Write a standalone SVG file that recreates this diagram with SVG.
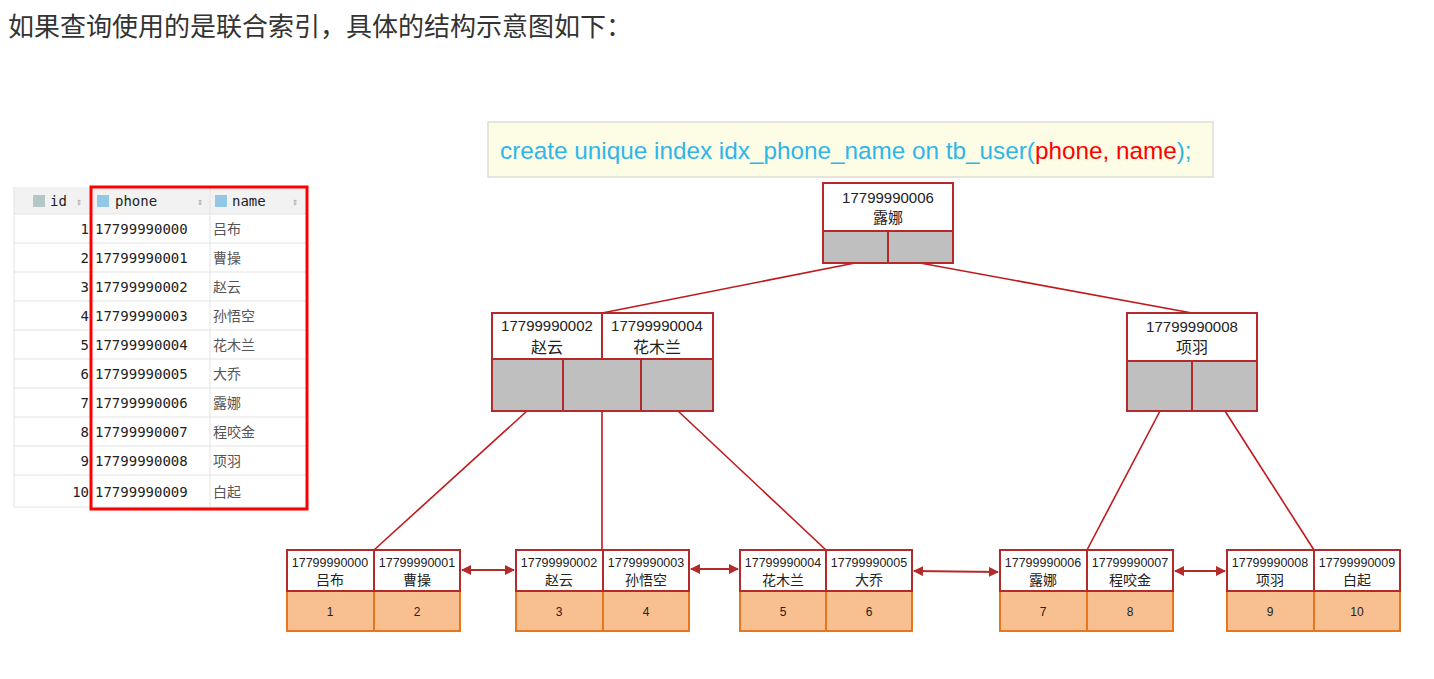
<svg xmlns="http://www.w3.org/2000/svg" width="1434" height="679" viewBox="0 0 1434 679">
<style>
.t{font-family:"Liberation Sans","Noto Sans CJK SC",sans-serif;fill:#222;text-anchor:middle}
.k{stroke:#b22a2a;stroke-width:2;fill:#fff}
.g{stroke:#b22a2a;stroke-width:2;fill:#bfbfbf}
.o{stroke:#e8761e;stroke-width:2;fill:#f8bf90}
.m{font-family:"DejaVu Sans Mono",monospace;font-size:14px;fill:#222}
.c{font-family:"Noto Sans CJK SC",sans-serif;font-size:14px;fill:#555}
.ln{stroke:#c0191c;stroke-width:1.6;fill:none}
.ar{stroke:#b22a2a;stroke-width:2;marker-start:url(#a);marker-end:url(#a)}
</style>
<defs><marker id="a" viewBox="0 0 10 10" refX="9" refY="5" markerWidth="5" markerHeight="5" orient="auto-start-reverse"><path d="M0,0L10,5L0,10z" fill="#b22a2a"/></marker></defs>
<rect width="1434" height="679" fill="#fff"/>
<text x="8" y="36" style="font-family:'Noto Sans CJK SC',sans-serif;font-size:26px;fill:#333">如果查询使用的是联合索引，具体的结构示意图如下：</text>
<g id="code"><rect x="488" y="122" width="725" height="55" fill="#fdfde6" stroke="#ccc"/>
<text x="500" y="159" style="font-family:'Liberation Sans',sans-serif;font-size:24.3px;fill:#2eb6ea">create unique index idx_phone_name on tb_user(<tspan fill="#f00">phone, name</tspan>);</text></g>
<g id="table">
<rect x="14" y="187" width="292" height="27" fill="#f2f2f2"/>
<g stroke="#e3e3e3"><line x1="14" y1="214" x2="306" y2="214"/><line x1="14" y1="243" x2="306" y2="243"/><line x1="14" y1="272" x2="306" y2="272"/><line x1="14" y1="301" x2="306" y2="301"/><line x1="14" y1="330" x2="306" y2="330"/><line x1="14" y1="359" x2="306" y2="359"/><line x1="14" y1="388" x2="306" y2="388"/><line x1="14" y1="417" x2="306" y2="417"/><line x1="14" y1="446" x2="306" y2="446"/><line x1="14" y1="475" x2="306" y2="475"/><line x1="14" y1="507" x2="306" y2="507"/><line x1="210" y1="187" x2="210" y2="507"/><line x1="14" y1="187" x2="14" y2="507"/></g>
<rect x="33" y="195" width="12" height="12" fill="#8aa" opacity="0.6"/><rect x="97" y="195" width="12" height="12" fill="#6ab6e0" opacity="0.7"/><rect x="215" y="195" width="12" height="12" fill="#6ab6e0" opacity="0.7"/>
<text class="m" x="50" y="206">id</text><text class="m" x="115" y="206">phone</text><text class="m" x="232" y="206">name</text>
<g class="m" style="fill:#999;font-size:10px"><text x="76" y="205">⇕</text><text x="197" y="205">⇕</text><text x="292" y="205">⇕</text></g>
<g class="m" text-anchor="end"><text x="89" y="234">1</text><text x="89" y="263">2</text><text x="89" y="292">3</text><text x="89" y="321">4</text><text x="89" y="350">5</text><text x="89" y="379">6</text><text x="89" y="408">7</text><text x="89" y="437">8</text><text x="89" y="466">9</text><text x="89" y="497">10</text></g>
<g class="m"><text x="95" y="234">17799990000</text><text x="95" y="263">17799990001</text><text x="95" y="292">17799990002</text><text x="95" y="321">17799990003</text><text x="95" y="350">17799990004</text><text x="95" y="379">17799990005</text><text x="95" y="408">17799990006</text><text x="95" y="437">17799990007</text><text x="95" y="466">17799990008</text><text x="95" y="497">17799990009</text></g>
<g class="c"><text x="213" y="234">吕布</text><text x="213" y="263">曹操</text><text x="213" y="292">赵云</text><text x="213" y="321">孙悟空</text><text x="213" y="350">花木兰</text><text x="213" y="379">大乔</text><text x="213" y="408">露娜</text><text x="213" y="437">程咬金</text><text x="213" y="466">项羽</text><text x="213" y="497">白起</text></g>
<rect x="91" y="187" width="216" height="322" fill="none" stroke="#f00" stroke-width="3"/>
</g>
<g id="connectors">
<line class="ln" x1="855" y1="263" x2="602" y2="313"/><line class="ln" x1="920" y1="263" x2="1192" y2="313"/>
<line class="ln" x1="527" y1="411" x2="374" y2="550"/><line class="ln" x1="602" y1="411" x2="602" y2="550"/><line class="ln" x1="678" y1="411" x2="826" y2="550"/>
<line class="ln" x1="1160" y1="411" x2="1087" y2="550"/><line class="ln" x1="1225" y1="411" x2="1314" y2="550"/>
<line class="ar" x1="462" y1="570" x2="514" y2="570"/><line class="ar" x1="691" y1="569" x2="738" y2="569"/><line class="ar" x1="914" y1="571" x2="998" y2="572"/><line class="ar" x1="1175" y1="571" x2="1225" y2="571"/>
</g>
<g id="root"><rect class="k" x="823" y="183" width="130" height="48"/><rect class="g" x="823" y="231" width="65" height="32"/><rect class="g" x="888" y="231" width="65" height="32"/>
<text class="t" x="888" y="203" font-size="15">17799990006</text><text class="t" x="888" y="223" font-size="15">露娜</text></g>
<g id="midL"><rect class="k" x="492" y="313" width="110" height="46"/><rect class="k" x="602" y="313" width="111" height="46"/>
<rect class="g" x="492" y="359" width="71" height="52"/><rect class="g" x="563" y="359" width="78" height="52"/><rect class="g" x="641" y="359" width="72" height="52"/>
<text class="t" x="547" y="331" font-size="15">17799990002</text><text class="t" x="547" y="353" font-size="16">赵云</text>
<text class="t" x="657" y="331" font-size="15">17799990004</text><text class="t" x="657" y="353" font-size="16">花木兰</text></g>
<g id="midR"><rect class="k" x="1127" y="313" width="130" height="48"/><rect class="g" x="1127" y="361" width="65" height="50"/><rect class="g" x="1192" y="361" width="65" height="50"/>
<text class="t" x="1192" y="332" font-size="15">17799990008</text><text class="t" x="1192" y="353" font-size="16">项羽</text></g>
<g id="leaf1"><rect class="o" x="287" y="591" width="87" height="40"/><rect class="o" x="374" y="591" width="86" height="40"/><rect class="k" x="287" y="550" width="87" height="41"/><rect class="k" x="374" y="550" width="86" height="41"/>
<text class="t" x="330" y="567" font-size="12.5">17799990000</text><text class="t" x="330" y="585" font-size="14">吕布</text><text class="t" x="417" y="567" font-size="12.5">17799990001</text><text class="t" x="417" y="585" font-size="14">曹操</text>
<text class="t" x="330" y="616" font-size="12">1</text><text class="t" x="417" y="616" font-size="12">2</text></g>
<g id="leaf2"><rect class="o" x="516" y="591" width="87" height="40"/><rect class="o" x="603" y="591" width="86" height="40"/><rect class="k" x="516" y="550" width="87" height="41"/><rect class="k" x="603" y="550" width="86" height="41"/>
<text class="t" x="559" y="567" font-size="12.5">17799990002</text><text class="t" x="559" y="585" font-size="14">赵云</text><text class="t" x="646" y="567" font-size="12.5">17799990003</text><text class="t" x="646" y="585" font-size="14">孙悟空</text>
<text class="t" x="559" y="616" font-size="12">3</text><text class="t" x="646" y="616" font-size="12">4</text></g>
<g id="leaf3"><rect class="o" x="740" y="591" width="86" height="40"/><rect class="o" x="826" y="591" width="86" height="40"/><rect class="k" x="740" y="550" width="86" height="41"/><rect class="k" x="826" y="550" width="86" height="41"/>
<text class="t" x="783" y="567" font-size="12.5">17799990004</text><text class="t" x="783" y="585" font-size="14">花木兰</text><text class="t" x="869" y="567" font-size="12.5">17799990005</text><text class="t" x="869" y="585" font-size="14">大乔</text>
<text class="t" x="783" y="616" font-size="12">5</text><text class="t" x="869" y="616" font-size="12">6</text></g>
<g id="leaf4"><rect class="o" x="1000" y="591" width="87" height="40"/><rect class="o" x="1087" y="591" width="86" height="40"/><rect class="k" x="1000" y="550" width="87" height="41"/><rect class="k" x="1087" y="550" width="86" height="41"/>
<text class="t" x="1043" y="567" font-size="12.5">17799990006</text><text class="t" x="1043" y="585" font-size="14">露娜</text><text class="t" x="1130" y="567" font-size="12.5">17799990007</text><text class="t" x="1130" y="585" font-size="14">程咬金</text>
<text class="t" x="1043" y="616" font-size="12">7</text><text class="t" x="1130" y="616" font-size="12">8</text></g>
<g id="leaf5"><rect class="o" x="1227" y="591" width="87" height="40"/><rect class="o" x="1314" y="591" width="86" height="40"/><rect class="k" x="1227" y="550" width="87" height="41"/><rect class="k" x="1314" y="550" width="86" height="41"/>
<text class="t" x="1270" y="567" font-size="12.5">17799990008</text><text class="t" x="1270" y="585" font-size="14">项羽</text><text class="t" x="1357" y="567" font-size="12.5">17799990009</text><text class="t" x="1357" y="585" font-size="14">白起</text>
<text class="t" x="1270" y="616" font-size="12">9</text><text class="t" x="1357" y="616" font-size="12">10</text></g>
</svg>
